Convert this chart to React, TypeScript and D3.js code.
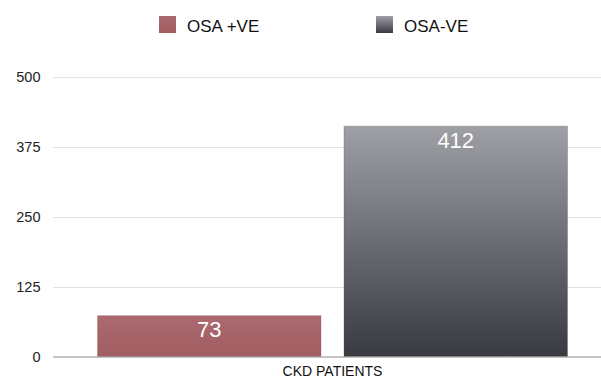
import React from "react";
import * as d3 from "d3";

const categories = ["CKD PATIENTS"];
const seriesNames = ["OSA +VE", "OSA-VE"];
const seriesValues = [73, 412];
const yTicks = [0, 125, 250, 375, 500];

const W = 601;
const H = 378;
const FONT = "'Liberation Sans', Arial, Helvetica, sans-serif";

const gradients = [
  { id: "gPos", top: "#ab6a6f", bottom: "#a05d62" },
  { id: "gNeg", top: "#9fa0a6", bottom: "#393940" },
];

export default function App() {
  const y = d3.scaleLinear().domain([0, 500]).range([356.5, 77]);
  const x0 = d3
    .scaleBand<string>()
    .domain(categories)
    .range([53, 612])
    .paddingInner(0)
    .paddingOuter(0.0947);
  const x1 = d3
    .scaleBand<string>()
    .domain(seriesNames)
    .range([0, x0.bandwidth()])
    .paddingInner(0.0933)
    .paddingOuter(0);

  const gridX0 = 53;
  const gridX1 = 601;

  return (
    <svg
      width={W}
      height={H}
      style={{ position: "absolute", left: 0, top: 0, background: "#fff" }}
    >
      <defs>
        {gradients.map((g) => (
          <linearGradient key={g.id} id={g.id} x1="0" y1="0" x2="0" y2="1">
            <stop offset="0%" stopColor={g.top} />
            <stop offset="100%" stopColor={g.bottom} />
          </linearGradient>
        ))}
      </defs>

      {/* legend */}
      {seriesNames.map((name, i) => {
        const lx = [159, 376][i];
        return (
          <g key={name}>
            <rect x={lx} y={16} width={17} height={17} fill={`url(#${gradients[i].id})`} />
            <text
              x={lx + 28}
              y={31.5}
              fontFamily={FONT}
              fontSize={17}
              fill="#111"
            >
              {name}
            </text>
          </g>
        );
      })}

      {/* gridlines and y tick labels */}
      {yTicks.map((t) => (
        <g key={t}>
          {t !== 0 && (
            <line
              x1={gridX0}
              x2={gridX1}
              y1={Math.round(y(t)) + 0.5}
              y2={Math.round(y(t)) + 0.5}
              stroke="#e2e2e2"
              strokeWidth={1}
            />
          )}
          <text
            x={40.5}
            y={y(t)}
            dy="0.36em"
            textAnchor="end"
            fontFamily={FONT}
            fontSize={14.5}
            fill="#222"
          >
            {t}
          </text>
        </g>
      ))}

      {/* bars */}
      {categories.map((c) => (
        <g key={c} transform={`translate(${x0(c)},0)`}>
          {seriesNames.map((s, i) => {
            const v = seriesValues[i];
            const bx = x1(s)!;
            const bw = x1.bandwidth();
            const top = y(v);
            const h = y(0) - top;
            return (
              <g key={s}>
                <rect
                  x={bx}
                  y={top}
                  width={bw}
                  height={h}
                  fill={`url(#${gradients[i].id})`}
                  stroke={i === 0 ? "#8e4c51" : "#555559"}
                  strokeOpacity={0.3}
                  strokeWidth={1}
                />
                <text
                  x={bx + bw / 2}
                  y={top + 21.5}
                  textAnchor="middle"
                  fontFamily={FONT}
                  fontSize={22}
                  fill="#ffffff"
                >
                  {v}
                </text>
              </g>
            );
          })}
          <text
            x={x0.bandwidth() / 2}
            y={376}
            textAnchor="middle"
            fontFamily={FONT}
            fontSize={14}
            fill="#111"
          >
            {c}
          </text>
        </g>
      ))}

      {/* baseline */}
      <line
        x1={gridX0}
        x2={gridX1}
        y1={357}
        y2={357}
        stroke="#8a8a8a"
        strokeWidth={1}
      />
    </svg>
  );
}
